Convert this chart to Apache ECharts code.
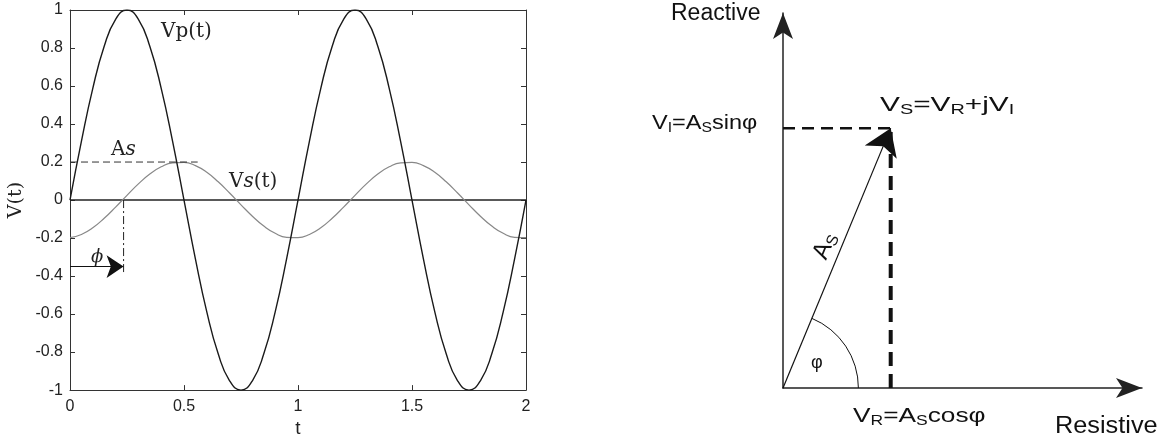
<!DOCTYPE html>
<html>
<head>
<meta charset="utf-8">
<script src="https://cdn.jsdelivr.net/npm/echarts@6/dist/echarts.min.js"></script>
<style>
  html, body { margin: 0; padding: 0; background: #fff; }
  #chart { width: 1170px; height: 443px; }
</style>
</head>
<body>
<div id="chart"></div>
<script>
  // left plot: samples every 0.05
  const tValues = [0, 0.05, 0.1, 0.15, 0.2, 0.25, 0.3, 0.35, 0.4, 0.45,
    0.5, 0.55, 0.6, 0.65, 0.7, 0.75, 0.8, 0.85, 0.9, 0.95,
    1, 1.05, 1.1, 1.15, 1.2, 1.25, 1.3, 1.35, 1.4, 1.45,
    1.5, 1.55, 1.6, 1.65, 1.7, 1.75, 1.8, 1.85, 1.9, 1.95, 2]
  const vpValues = [0, 0.309, 0.588, 0.809, 0.951, 1, 0.951, 0.809, 0.588, 0.309,
    0, -0.309, -0.588, -0.809, -0.951, -1, -0.951, -0.809, -0.588, -0.309,
    0, 0.309, 0.588, 0.809, 0.951, 1, 0.951, 0.809, 0.588, 0.309,
    0, -0.309, -0.588, -0.809, -0.951, -1, -0.951, -0.809, -0.588, -0.309, 0]
  const vsValues = [-0.198, -0.181, -0.146, -0.096, -0.037, 0.025, 0.085, 0.137, 0.175, 0.196,
    0.198, 0.181, 0.146, 0.096, 0.037, -0.025, -0.085, -0.137, -0.175, -0.196,
    -0.198, -0.181, -0.146, -0.096, -0.037, 0.025, 0.085, 0.137, 0.175, 0.196,
    0.198, 0.181, 0.146, 0.096, 0.037, -0.025, -0.085, -0.137, -0.175, -0.196, -0.198]

  // annotation lines on the left plot
  const asLevel = [[0, 0.2], [0.56, 0.2]]
  const phiMarker = [[0.235, 0], [0.235, -0.38]]
  const phiArrow = [[0, -0.35], [0.235, -0.35]]
  const zeroLine = [[0, 0], [2, 0]]

  // right plot: phasor diagram
  const phasorTip = [3.0, 6.93]
  const reactiveDash = [[0, 6.93], [3.0, 6.93]]
  const resistiveDash = [[3.0, 0], [3.0, 6.93]]
  const arcRadius = 2.1

  const pair = (xs, ys) => xs.map((x, i) => [x, ys[i]])

  const sans = 'Liberation Sans, Arial, sans-serif'
  const serif = 'DejaVu Serif, Liberation Serif, serif'

  const chart = echarts.init(document.getElementById('chart'))

  const boxAxis = {
    type: 'value',
    axisLine: { show: true, onZero: false, lineStyle: { color: '#333', width: 1 } },
    axisTick: { show: true, inside: true, length: 5, lineStyle: { color: '#333' } },
    splitLine: { show: false }
  }
  const arrowAxis = {
    gridIndex: 1, type: 'value', min: 0, max: 10,
    axisLine: { show: true, onZero: false, symbol: ['none', 'arrow'], symbolSize: [15, 26],
      lineStyle: { color: '#222', width: 1.5 } },
    axisTick: { show: false }, axisLabel: { show: false }, splitLine: { show: false }
  }

  // rich text with subscripts for the phasor labels
  const subRich = (main, sub) => ({
    m: { font: main + 'px ' + sans, fill: '#111', lineHeight: main + 3 },
    s: { font: sub + 'px ' + sans, fill: '#111', lineHeight: sub + 3, verticalAlign: 'bottom' }
  })
  const serifRich = {
    n: { font: '20px ' + serif, fill: '#222' },
    i: { font: 'italic 20px ' + serif, fill: '#222' }
  }

  chart.setOption({
    animation: false,
    grid: [
      { left: 70, top: 10, width: 456, height: 383 },
      { left: 783, top: 13, width: 359, height: 375 }
    ],
    xAxis: [
      Object.assign({}, boxAxis, {
        gridIndex: 0, position: 'bottom', min: 0, max: 2, interval: 0.5,
        axisLabel: { color: '#222', fontFamily: sans, fontSize: 16, margin: 8 },
        name: 't', nameLocation: 'middle', nameGap: 26,
        nameTextStyle: { color: '#222', fontFamily: sans, fontSize: 19 }
      }),
      Object.assign({}, boxAxis, {
        gridIndex: 0, position: 'top', min: 0, max: 2, interval: 0.5,
        axisLabel: { show: false }
      }),
      arrowAxis
    ],
    yAxis: [
      Object.assign({}, boxAxis, {
        gridIndex: 0, position: 'left', min: -1, max: 1, interval: 0.2,
        axisLabel: { color: '#222', fontFamily: sans, fontSize: 16, margin: 7 },
        name: 'V(t)', nameLocation: 'middle', nameGap: 44, nameRotate: 90,
        nameTextStyle: { color: '#222', fontFamily: serif, fontSize: 19 }
      }),
      Object.assign({}, boxAxis, {
        gridIndex: 0, position: 'right', min: -1, max: 1, interval: 0.2,
        axisLabel: { show: false }
      }),
      arrowAxis
    ],
    series: [
      {
        type: 'line', xAxisIndex: 0, yAxisIndex: 0, data: zeroLine, symbol: 'none',
        lineStyle: { color: '#222', width: 1.5 }
      },
      {
        name: 'Vs(t)', type: 'line', xAxisIndex: 0, yAxisIndex: 0, smooth: 0.5,
        data: pair(tValues, vsValues), symbol: 'none',
        lineStyle: { color: '#888', width: 1.2 }
      },
      {
        name: 'Vp(t)', type: 'line', xAxisIndex: 0, yAxisIndex: 0, smooth: 0.5,
        data: pair(tValues, vpValues), symbol: 'none',
        lineStyle: { color: '#1a1a1a', width: 1.4 }
      },
      {
        type: 'line', xAxisIndex: 0, yAxisIndex: 0, data: asLevel, symbol: 'none',
        lineStyle: { color: '#333', width: 1, type: [7, 4] }
      },
      {
        type: 'line', xAxisIndex: 0, yAxisIndex: 0, data: phiMarker, symbol: 'none',
        lineStyle: { color: '#222', width: 1, type: [8, 3, 2, 3] }
      },
      {
        type: 'lines', coordinateSystem: 'cartesian2d', xAxisIndex: 0, yAxisIndex: 0,
        symbol: ['none', 'arrow'], symbolSize: [10, 17],
        lineStyle: { color: '#111', width: 1, opacity: 1, curveness: 0 },
        data: [{ coords: phiArrow }]
      },
      // phasor diagram
      {
        type: 'line', xAxisIndex: 2, yAxisIndex: 2, data: reactiveDash, symbol: 'none',
        lineStyle: { color: '#111', width: 2.5, type: [12, 7] }
      },
      {
        type: 'line', xAxisIndex: 2, yAxisIndex: 2, data: resistiveDash, symbol: 'none',
        lineStyle: { color: '#111', width: 4, type: [14, 8] }
      },
      {
        type: 'lines', coordinateSystem: 'cartesian2d', xAxisIndex: 2, yAxisIndex: 2,
        symbol: ['none', 'arrow'], symbolSize: [15, 26],
        lineStyle: { color: '#111', width: 1.2, opacity: 1, curveness: 0 },
        data: [{ coords: [[0, 0], phasorTip] }]
      },
      {
        type: 'custom', xAxisIndex: 2, yAxisIndex: 2, silent: true, clip: false,
        data: [[0, 0]],
        renderItem: function (params, api) {
          const c = api.coord([0, 0])
          const tip = api.coord(phasorTip)
          const r = api.size([arcRadius, 0])[0]
          const a = Math.atan2(tip[1] - c[1], tip[0] - c[0])
          return {
            type: 'arc',
            shape: { cx: c[0], cy: c[1], r: r, startAngle: a, endAngle: 0, clockwise: true },
            style: { stroke: '#111', lineWidth: 1, fill: null }
          }
        }
      }
    ],
    graphic: [
      // labels on the time plot
      { type: 'text', x: 161, y: 32, style: { text: 'Vp(t)', font: '20px ' + serif, fill: '#222', verticalAlign: 'middle' } },
      { type: 'text', x: 111, y: 150, style: { text: '{n|A}{i|s}', verticalAlign: 'middle', rich: serifRich } },
      { type: 'text', x: 229, y: 182, style: { text: '{n|V}{i|s}{n|(t)}', verticalAlign: 'middle', rich: serifRich } },
      { type: 'text', x: 91, y: 257, style: { text: 'ϕ', font: 'italic 18px ' + serif, fill: '#222', verticalAlign: 'middle' } },
      // labels on the phasor diagram
      { type: 'text', x: 671, y: 14, style: { text: 'Reactive', font: '23px ' + sans, fill: '#111', verticalAlign: 'middle' } },
      { type: 'text', x: 1055, y: 427, scaleX: 1.1, style: { text: 'Resistive', font: '23px ' + sans, fill: '#111', verticalAlign: 'middle' } },
      { type: 'text', x: 811, y: 363, style: { text: 'φ', font: '18px ' + sans, fill: '#111', verticalAlign: 'middle' } },
      {
        type: 'text', x: 880, y: 105, scaleX: 1.42,
        style: { text: '{m|V}{s|S}{m|=V}{s|R}{m|+jV}{s|I}', verticalAlign: 'middle', rich: subRich(21, 14) }
      },
      {
        type: 'text', x: 652, y: 123, scaleX: 1.12,
        style: { text: '{m|V}{s|I}{m|=A}{s|S}{m|sinφ}', verticalAlign: 'middle', rich: subRich(21, 14) }
      },
      {
        type: 'text', x: 853, y: 416, scaleX: 1.25,
        style: { text: '{m|V}{s|R}{m|=A}{s|S}{m|cosφ}', verticalAlign: 'middle', rich: subRich(21, 14) }
      },
      {
        type: 'text', x: 825, y: 246, rotation: 1.18,
        style: { text: '{m|A}{s|S}', align: 'center', verticalAlign: 'middle', rich: subRich(24, 16) }
      }
    ]
  })

  window.onresize = function () {
    chart.resize()
  }
</script>
</body>
</html>
